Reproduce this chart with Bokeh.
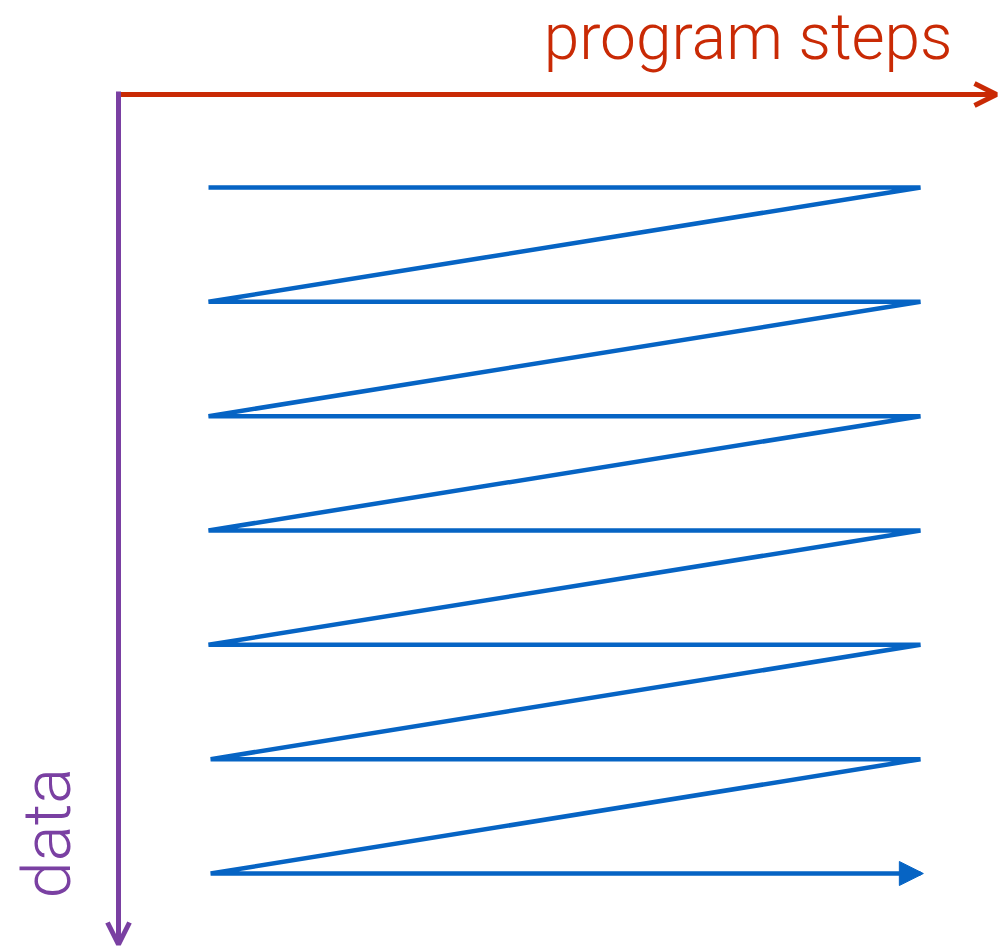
from math import pi
from bokeh.plotting import figure
from bokeh.models import Range1d, Arrow, OpenHead, NormalHead, Label
from bokeh.embed import file_html
from bokeh.resources import INLINE

# ---- data ----
rows = [1, 2, 3, 4, 5, 6, 7]                     # data rows (top to bottom)
row_start = [0.0, 0.0, 0.0, 0.0, 0.0, 0.003, 0.003]  # program step where each row starts
row_end = [1.0, 1.0, 1.0, 1.0, 1.0, 1.0, 1.0]    # program step where each row ends
x_label = "program steps"
y_label = "data"

# ---- styles ----
RED = "#C92A05"
PURPLE = "#7A40A2"
BLUE = "#0664C4"
FONT = "Roboto Light"

W, H = 1000, 947
PX_PER_STEP = 712.0
PX_PER_ROW = 686.0 / 6
X0 = -208.0 / PX_PER_STEP
X1 = X0 + W / PX_PER_STEP
Y_TOP = 1 - 187.0 / PX_PER_ROW
Y_BOT = Y_TOP + H / PX_PER_ROW


def dx(px):
    return X0 + px / PX_PER_STEP


def dy(py):
    return Y_TOP + py / PX_PER_ROW


p = figure(width=W, height=H, x_range=Range1d(X0, X1), y_range=Range1d(Y_BOT, Y_TOP),
           output_backend="svg", toolbar_location=None, min_border=0,
           x_axis_location=None, y_axis_location=None,
           outline_line_color=None, background_fill_color="white",
           border_fill_color="white")
p.grid.visible = False

# zigzag path through the rows
xs, ys = [], []
for i, r in enumerate(rows):
    xs += [row_start[i], row_end[i]]
    ys += [r, r]
p.line(xs, ys, line_width=4.5, line_color=BLUE, line_join="bevel")

# arrow head at end of the last row
p.add_layout(Arrow(end=NormalHead(size=24, fill_color=BLUE, line_color=BLUE, line_width=1),
                   x_start=row_start[-1], y_start=rows[-1],
                   x_end=row_end[-1] + 0.004, y_end=rows[-1],
                   line_alpha=0))

# program steps axis (red, horizontal)
p.add_layout(Arrow(end=OpenHead(size=22, line_color=RED, line_width=5),
                   x_start=dx(116), y_start=dy(94), x_end=dx(996), y_end=dy(94),
                   line_color=RED, line_width=5))

# data axis (purple, vertical)
p.add_layout(Arrow(end=OpenHead(size=22, line_color=PURPLE, line_width=5),
                   x_start=dx(118), y_start=dy(91), x_end=dx(118), y_end=dy(944),
                   line_color=PURPLE, line_width=5))

p.add_layout(Label(x=dx(952), y=dy(37), text=x_label, text_align="right",
                   text_baseline="alphabetic", text_font=FONT, text_font_size="64px",
                   text_color=RED))
p.add_layout(Label(x=dx(46), y=dy(898), text=y_label, angle=pi / 2, text_align="left",
                   text_baseline="alphabetic", text_font=FONT, text_font_size="67px",
                   text_color=PURPLE))

open("out.html", "w").write(file_html(p, INLINE))
